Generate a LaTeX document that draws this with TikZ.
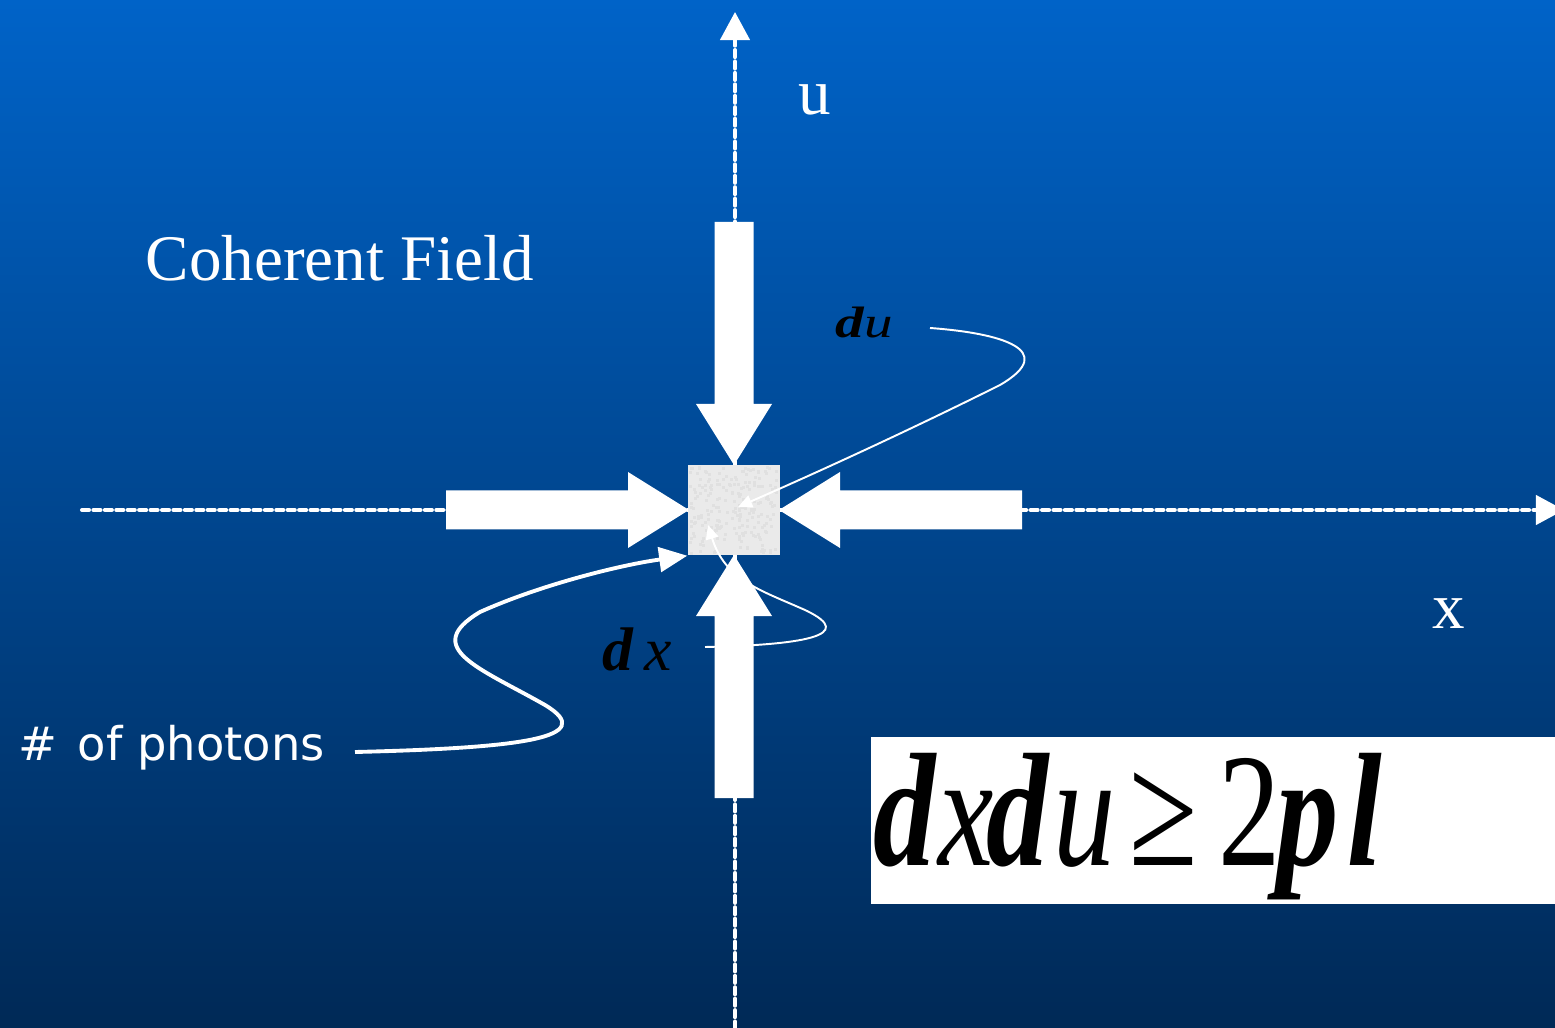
\documentclass[tikz,border=0pt]{standalone}
\usepackage{fontspec}
\usepackage{graphicx}
\setmainfont{Liberation Serif}
\newfontfamily\photonfont{DejaVu Sans}
\usetikzlibrary{arrows.meta}
\definecolor{topblue}{RGB}{0,99,200}
\definecolor{bottomblue}{RGB}{0,41,86}
\definecolor{cellgray}{RGB}{234,234,234}

\begin{document}
\begin{tikzpicture}[x=0.01cm, y=-0.01cm,
    axis/.style={white, line width=1.15pt, dash pattern=on 2pt off 1.25pt, line cap=round,
      -{Triangle[length=8pt,width=8.3pt]}},
    label/.style={white, font=\fontsize{18.5}{22}\selectfont},
    pointer/.style={white, line width=0.55pt, -{Triangle[length=4pt,width=3.6pt]}}]
    % background
    \useasboundingbox (0,0) rectangle (1555,1028);
    \clip (0,0) rectangle (1555,1028);
    \shade[top color=topblue, bottom color=bottomblue] (0,0) rectangle (1555,1028);

    % axes
    \coordinate (c) at (734,510);
    \coordinate (xl) at (82,510);
    \coordinate (xr) at (1564,510);
    \coordinate (ub) at (735,1040);
    \coordinate (ut) at (735,12);
    \draw[axis] (xl) -- (xr);
    \draw[axis] (ub) -- (ut);

    % block arrows towards the cell
    \foreach \a in {0,90,180,270}
        \fill[white, shift={(c)}, rotate=\a] (-19.5,-288) -- (19.5,-288) -- (19.5,-106) -- (38,-106)
            -- (0,-45) -- (-38,-106) -- (-19.5,-106) -- cycle;

    % phase space cell
    \node[fill=cellgray, minimum width=0.92cm, minimum height=0.9cm, inner sep=0] (cell) at (c) {};
    \pgfmathsetseed{11}
    \foreach \i in {1,...,220} {
        \pgfmathsetmacro\px{689+rnd*87}
        \pgfmathsetmacro\py{466+rnd*86}
        \fill[black!12] (\px,\py) rectangle ++(3,3);
    }

    % labels
    \node[label] (coh) at (340,258) {Coherent Field};
    \node[label] (ulab) at (815,100) {u};
    \node[label] (xlab) at (1449,614) {x};
    \node[white, anchor=west, inner sep=0, font=\photonfont\fontsize{13.2}{16}\selectfont] (photons) at (18,748)
        {\#\hspace{1.5pt} of photons};
    \node[anchor=base, inner sep=0, font=\fontsize{12.5}{15}\selectfont] (du) at (864,338)
        {\scalebox{1.3}[1]{\textbf{\textit{d}}\textit{u}}};
    \node[anchor=base, inner sep=0, font=\fontsize{17.5}{20}\selectfont] (dx) at (637,670)
        {\textbf{\textit{d}}\,\textit{x}};

    % uncertainty relation, one glyph at a time
    \node[fill=white, anchor=north west, minimum width=7.2cm, minimum height=1.67cm, inner sep=0] (lawbox) at (870,736) {};
    \foreach \gx/\gl [count=\i] in {905/\textbf{\textit{d}}, 966/\textit{x}, 1018/\textbf{\textit{d}},
            1085/\textit{u}, 1164/≥, 1250/2, 1308/\textbf{\textit{p}}, 1365/\textbf{\textit{l}}}
        \node[anchor=base, inner sep=0, font=\fontsize{46}{50}\selectfont] (law\i) at (\gx,865)
            {\scalebox{0.77}[1]{\gl}};

    % pointers
    \coordinate (pstart) at (355,752);
    \coordinate (dustart) at (930,328);
    \coordinate (duend) at (738,507);
    \coordinate (dxstart) at (705,647);
    \coordinate (dxend) at (708,525);
    \draw[white, line width=1.1pt, -{Triangle[length=8pt,width=7pt]}] (pstart)
        .. controls (520,748) and (600,738) .. (545,705)
        .. controls (480,668) and (420,648) .. (480,612)
        .. controls (540,585) and (620,565) .. (cell.south west);
    \draw[pointer] (dustart) .. controls (1000,333) and (1060,350) .. (1000,385)
        .. controls (900,435) and (800,480) .. (duend);
    \draw[pointer] (dxstart) .. controls (800,645) and (860,636) .. (805,610)
        .. controls (760,590) and (725,580) .. (dxend);
\end{tikzpicture}
\end{document}
